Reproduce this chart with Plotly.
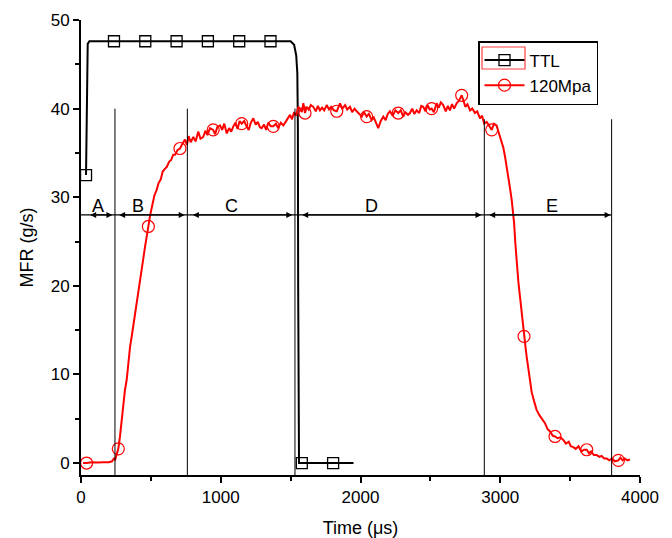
import plotly.graph_objects as go

# ---------------- data ----------------
ttl_time = [36, 38, 40, 42, 44, 48, 60, 236, 460, 684, 908, 1132, 1356, 1500, 1525, 1540,
            1548, 1552, 1554, 1556, 1560, 1580, 1804, 1950]
ttl_value = [32.5, 35, 39, 43, 46, 47.3, 47.6, 47.6, 47.6, 47.6, 47.6, 47.6, 47.6, 47.6, 47.2, 46,
             44, 38, 20, 5, 0, 0, 0, 0]
ttl_marker_time = [36, 236, 460, 684, 908, 1132, 1356, 1580, 1804]

mfr_time = [15, 40, 80, 120, 160, 200, 222, 235, 245, 255, 267, 279, 291, 303, 315, 327, 339, 351, 362, 374,
            386, 398, 410, 422, 434, 446, 458, 470, 482, 495, 510, 525, 541, 555, 570, 585, 600, 613, 630, 645,
            660, 673, 690, 708, 725, 744, 758, 770, 785, 804, 820, 839, 855, 875, 890, 905, 923, 946, 960, 975,
            995, 1010, 1025, 1043, 1060, 1075, 1090, 1105, 1120, 1135, 1150, 1168, 1185, 1200, 1215, 1233, 1250,
            1265, 1280, 1293, 1310, 1325, 1340, 1358, 1376, 1395, 1410, 1430, 1448, 1465, 1480, 1496, 1510, 1525,
            1540, 1555, 1567, 1580, 1591, 1603, 1615, 1630, 1645, 1662, 1680, 1695, 1710, 1725, 1740, 1758, 1775,
            1790, 1810, 1830, 1853, 1870, 1890, 1905, 1925, 1940, 1958, 1973, 1990, 2009, 2025, 2044, 2060, 2080,
            2095, 2110, 2127, 2145, 2163, 2180, 2195, 2211, 2230, 2250, 2270, 2288, 2306, 2320, 2340, 2354, 2370,
            2385, 2402, 2420, 2435, 2449, 2465, 2480, 2495, 2509, 2525, 2545, 2560, 2575, 2592, 2610, 2625, 2640,
            2655, 2670, 2688, 2705, 2715, 2724, 2735, 2750, 2765, 2784, 2800, 2819, 2835, 2855, 2870, 2885, 2903,
            2920, 2939, 2955, 2974, 2985, 2998, 3010, 3022, 3034, 3046, 3058, 3070, 3082, 3090, 3099, 3108, 3118,
            3130, 3141, 3155, 3170, 3180, 3189, 3200, 3212, 3225, 3240, 3260, 3280, 3300, 3320, 3340, 3355, 3375,
            3392, 3410, 3430, 3451, 3470, 3490, 3505, 3523, 3540, 3560, 3580, 3600, 3619, 3635, 3650, 3670, 3690,
            3710, 3725, 3745, 3762, 3780, 3800, 3820, 3845, 3860, 3875, 3890, 3910, 3928]
mfr_value = [0.0, 0.0, 0.1, 0.05, 0.1, 0.1, 0.2, 0.5, 0.4, 1.0, 1.6, 3.0, 5.0, 7.1, 8.3, 9.4, 11.5, 13.1, 14.2, 15.4,
             16.8, 18.1, 19.2, 20.6, 21.8, 23.1, 24.4, 25.4, 26.7, 28.0, 29.3, 30.2, 30.8, 31.6, 32.0, 32.9, 33.2, 33.4, 34.0, 34.2,
             34.8, 34.8, 35.3, 35.5, 36.0, 36.5, 35.9, 36.9, 36.2, 36.8, 36.3, 37.4, 36.6, 36.8, 37.5, 37.0, 37.8, 37.6, 37.1, 37.9,
             38.1, 37.6, 38.3, 37.2, 37.8, 37.4, 38.0, 38.4, 37.7, 38.6, 38.3, 38.6, 38.0, 37.6, 38.4, 38.9, 38.2,
             38.5, 37.9, 37.8, 38.2, 37.6, 38.4, 38.0, 38.0, 38.3, 37.8, 38.4, 38.1, 38.6, 38.9, 39.3, 38.8, 39.6,
             39.2, 40.2, 40.0, 39.6, 40.6, 39.5, 40.2, 39.9, 40.4, 40.2, 39.7, 40.3, 39.8, 40.1, 39.8, 40.4, 39.9,
             40.2, 39.8, 39.7, 40.6, 40.0, 40.4, 39.9, 40.2, 39.6, 40.0, 39.7, 39.4, 39.1, 39.6, 39.1, 39.4, 38.7,
             39.0, 38.4, 37.8, 38.6, 39.1, 38.7, 39.4, 39.7, 39.2, 39.8, 39.5, 39.8, 39.1, 39.6, 39.3, 39.5, 40.0,
             39.4, 39.8, 39.5, 40.3, 40.2, 39.7, 40.4, 39.9, 40.0, 39.6, 40.6, 40.1, 40.7, 40.4, 39.7, 40.3, 39.8,
             40.5, 40.0, 40.6, 40.9, 41.3, 41.5, 41.0, 40.2, 40.5, 39.8, 40.0, 39.5, 39.7, 38.9, 39.2, 38.3, 38.5,
             38.0, 37.6, 38.3, 38.1, 37.5, 36.8, 36.2, 35.6, 34.6, 33.5, 32.3, 31.0, 29.7, 28.5, 27.1, 24.8, 22.2,
             20.4, 18.8, 16.5, 14.3, 13.2, 12.0, 10.8, 9.4, 8.0, 7.1, 6.0, 5.4, 5.0, 4.5, 3.8, 3.6, 3.1,
             3.0, 2.8, 2.9, 2.6, 2.2, 2.4, 1.9, 1.8, 1.6, 1.9, 1.3, 1.5, 1.5, 1.1, 1.3, 0.9, 0.9,
             0.7, 0.8, 0.5, 0.5, 0.3, 0.5, 0.2, 0.3, 0.6, 0.3, 0.5, 0.3, 0.4]
mfr_marker_time = [40, 267, 482, 708, 946, 1150, 1376, 1603, 1830, 2044, 2270, 2509, 2724, 2939,
                   3170, 3392, 3619, 3845]

# phase boundaries (time, top of line) and labels
phase_bounds = [243, 761, 1531, 2886, 3797]
phase_tops = [40, 40, 40, 38.8, 38.8]
phase_labels = ["A", "B", "C", "D", "E"]
phase_label_time = [124, 410, 1078, 2082, 3368]
phase_arrow_start = [55, 262, 790, 1572, 2910]
phase_arrow_end = [225, 742, 1512, 2866, 3790]
arrow_level = 28

x_ticks = [0, 1000, 2000, 3000, 4000]
y_ticks = [0, 10, 20, 30, 40, 50]

# ---------------- figure ----------------
FONT = "Liberation Sans, Arial, sans-serif"
Y_MIN = -1.35
ML, MR, MT, MB = 81, 32, 20, 63
PW, PH = 672 - ML - MR, 538 - MT - MB


def px_x(p):
    return (p - ML) / PW


def px_y(p):
    return (538 - MB - p) / PH


fig = go.Figure()

ttl_my = [ttl_value[ttl_time.index(t)] for t in ttl_marker_time]
mfr_my = [mfr_value[mfr_time.index(t)] for t in mfr_marker_time]

fig.add_trace(go.Scatter(x=ttl_time, y=ttl_value, mode="lines",
                         line=dict(color="black", width=2), showlegend=False, hoverinfo="skip"))
fig.add_trace(go.Scatter(x=ttl_marker_time, y=ttl_my, mode="markers",
                         marker=dict(symbol="square-open", size=11, color="black", line=dict(width=1.3)),
                         showlegend=False))
fig.add_trace(go.Scatter(x=mfr_time, y=mfr_value, mode="lines",
                         line=dict(color="#ff0000", width=2), showlegend=False, hoverinfo="skip"))
fig.add_trace(go.Scatter(x=mfr_marker_time, y=mfr_my, mode="markers",
                         marker=dict(symbol="circle-open", size=12, color="#ff0000", line=dict(width=1.2)),
                         showlegend=False))

# legend entries
fig.add_trace(go.Scatter(x=[None], y=[None], mode="lines+markers", name="TTL",
                         line=dict(color="black", width=2),
                         marker=dict(symbol="square-open", size=11, color="black", line=dict(width=1.3))))
fig.add_trace(go.Scatter(x=[None], y=[None], mode="lines+markers", name="120Mpa",
                         line=dict(color="#ff0000", width=2),
                         marker=dict(symbol="circle-open", size=12, color="#ff0000", line=dict(width=1.2))))

shapes = []
for b, top in zip(phase_bounds, phase_tops):
    shapes.append(dict(type="line", xref="x", yref="y", x0=b, x1=b, y0=Y_MIN, y1=top,
                       line=dict(color="black", width=1)))
shapes.append(dict(type="line", xref="x", yref="y", x0=0, x1=phase_bounds[-1],
                   y0=arrow_level, y1=arrow_level, line=dict(color="black", width=1.3)))
# legend frame (white background) and red selection box around the TTL legend symbol
shapes.append(dict(type="rect", xref="paper", yref="paper", x0=px_x(478), x1=px_x(602),
                   y0=px_y(99), y1=px_y(41), fillcolor="white", line=dict(width=0), layer="above"))
shapes.append(dict(type="rect", xref="paper", yref="paper", x0=px_x(482), x1=px_x(525),
                   y0=px_y(69), y1=px_y(47), line=dict(color="#ff4040", width=1.2), layer="above"))

annotations = []
for s, e in zip(phase_arrow_start, phase_arrow_end):
    annotations.append(dict(x=e, y=arrow_level, ax=s, ay=arrow_level, xref="x", yref="y",
                            axref="x", ayref="y", text="", showarrow=True,
                            arrowhead=2, startarrowhead=2, arrowside="end+start",
                            arrowsize=1, arrowwidth=1.2, arrowcolor="black"))
for lbl, t in zip(phase_labels, phase_label_time):
    annotations.append(dict(x=t, y=arrow_level, xref="x", yref="y", text=lbl, showarrow=False,
                            yanchor="bottom", yshift=-3, font=dict(family=FONT, size=18, color="black")))

fig.update_layout(
    width=672, height=538,
    margin=dict(l=ML, r=MR, t=MT, b=MB, autoexpand=False),
    paper_bgcolor="white", plot_bgcolor="white",
    font=dict(family=FONT, color="black"),
    shapes=shapes, annotations=annotations,
    legend=dict(x=px_x(478), y=px_y(41), xanchor="left", yanchor="top",
                bordercolor="black", borderwidth=1.5, bgcolor="rgba(0,0,0,0)",
                font=dict(family=FONT, size=17, color="black"),
                tracegroupgap=0, itemwidth=40),
)
fig.update_xaxes(range=[0, 4000], tickvals=x_ticks, showgrid=False, zeroline=False,
                 showline=True, linecolor="black", linewidth=2, ticks="outside", ticklen=6,
                 tickwidth=1.5, tickcolor="black", tickfont=dict(size=17, family=FONT),
                 minor=dict(dtick=500, ticks="outside", ticklen=4, tickwidth=1.5, tickcolor="black"),
                 title=dict(text="Time (μs)", font=dict(size=18, family=FONT), standoff=20))
fig.update_yaxes(range=[Y_MIN, 50], tickvals=y_ticks, showgrid=False, zeroline=False,
                 showline=True, linecolor="black", linewidth=2, ticks="outside", ticklen=6,
                 tickwidth=1.5, tickcolor="black", tickfont=dict(size=17, family=FONT),
                 minor=dict(dtick=5, ticks="outside", ticklen=4, tickwidth=1.5, tickcolor="black"),
                 title=dict(text="MFR (g/s)", font=dict(size=18, family=FONT), standoff=12))

fig.write_html("out.html", config={"displayModeBar": False},
               post_script="document.body.style.margin='0';")
